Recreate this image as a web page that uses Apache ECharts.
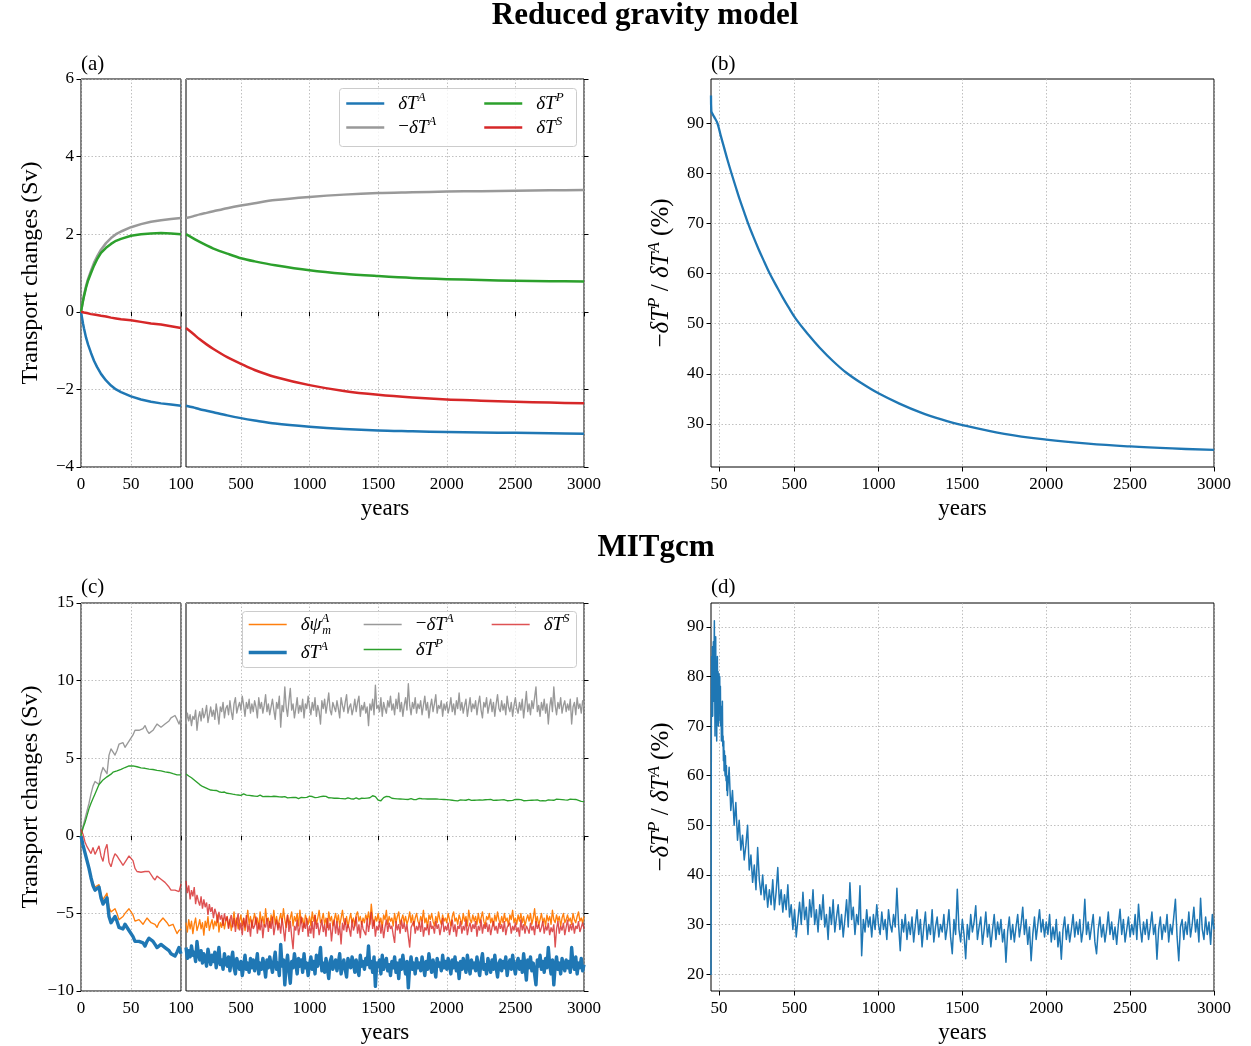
<!DOCTYPE html>
<html>
<head>
<meta charset="utf-8">
<script src="https://cdn.jsdelivr.net/npm/echarts@6/dist/echarts.min.js"></script>
<style>
html, body { margin: 0; padding: 0; background: #fff; }
#chart { width: 1251px; height: 1046px; }
</style>
</head>
<body>
<div id="chart"></div>
<script>
// ---------------- Reduced gravity model (panels a, b) ----------------
const rgYearsEarly = [0, 1, 2, 3, 5, 7, 10, 13, 16, 20, 25, 30, 35, 40, 50, 60, 70, 80, 90, 100];
const rgTA_early = [0, -0.15, -0.3, -0.43, -0.66, -0.84, -1.06, -1.26, -1.42, -1.6, -1.77, -1.9, -2.0, -2.07, -2.18, -2.26, -2.32, -2.36, -2.39, -2.42];
const rgTP_early = [0, 0.14, 0.28, 0.4, 0.62, 0.8, 1.0, 1.19, 1.35, 1.52, 1.65, 1.75, 1.83, 1.88, 1.96, 2.0, 2.02, 2.03, 2.02, 2.0];
const rgTS_early = [0, -0.005, -0.01, -0.02, -0.03, -0.04, -0.06, -0.07, -0.08, -0.1, -0.12, -0.15, -0.17, -0.19, -0.22, -0.26, -0.3, -0.33, -0.37, -0.42];

const rgYearsLate = [100, 150, 200, 250, 300, 400, 500, 600, 750, 1000, 1250, 1500, 1750, 2000, 2250, 2500, 2750, 3000];
const rgTA_late = [-2.42, -2.46, -2.51, -2.55, -2.59, -2.67, -2.74, -2.8, -2.88, -2.96, -3.02, -3.06, -3.08, -3.1, -3.11, -3.12, -3.13, -3.14];
const rgTP_late = [2.0, 1.9, 1.8, 1.71, 1.63, 1.5, 1.38, 1.3, 1.2, 1.07, 0.98, 0.92, 0.87, 0.84, 0.82, 0.8, 0.79, 0.78];
const rgTS_late = [-0.42, -0.56, -0.71, -0.84, -0.96, -1.17, -1.34, -1.5, -1.68, -1.89, -2.04, -2.14, -2.21, -2.26, -2.29, -2.32, -2.34, -2.36];

// -dT^P / dT^A in percent
const rgRatioYears = [2, 4, 8, 20, 40, 60, 80, 100, 124, 150, 170, 200, 223, 250, 285, 320, 352, 400, 430, 460, 511, 580, 650, 730, 809, 900, 1000, 1125, 1250, 1375, 1495, 1750, 2000, 2250, 2500, 2750, 3000];
const rgRatio = [95.5, 92.4, 92.0, 91.3, 90.0, 87.5, 85.1, 82.7, 80.0, 77.2, 75.1, 72.2, 70.0, 67.7, 64.9, 62.3, 60.0, 57.0, 55.2, 53.5, 50.8, 47.9, 45.2, 42.5, 40.2, 38.1, 36.1, 34.05, 32.3, 30.9, 29.8, 28.0, 26.85, 26.05, 25.5, 25.1, 24.8];

// ---------------- MITgcm (panels c, d) ----------------
// first century, every 2 years
const mitPsi_early = [0, -0.55, -1.05, -1.5, -2.0, -2.6, -3.05, -3.3, -3.3, -3.15, -3.8, -4.1, -3.9, -3.7, -4.6, -4.9, -4.8, -4.7, -5.0, -5.4, -5.3, -5.2, -5.0, -4.9, -4.7, -4.6, -5.1, -5.5, -5.6, -5.4, -5.5, -5.7, -5.5, -5.3, -5.4, -5.6, -5.5, -5.7, -5.9, -5.6, -5.5, -5.3, -5.3, -5.6, -5.8, -5.9, -5.7, -6.0, -6.3, -6.1, -6.0];
const mitTA_early = [0, -0.6, -1.1, -1.6, -2.1, -2.7, -3.2, -3.5, -3.5, -3.3, -4.0, -4.4, -4.2, -4.0, -5.2, -5.6, -5.5, -5.2, -5.5, -5.9, -5.9, -6.0, -5.7, -5.6, -6.1, -6.2, -6.5, -6.8, -6.9, -6.8, -6.7, -6.9, -7.1, -6.8, -6.6, -6.7, -6.8, -7.0, -7.2, -7.1, -7.0, -7.0, -7.2, -7.3, -7.4, -7.6, -7.7, -7.75, -7.5, -7.2, -7.6];
const mitTP_early = [0, 0.5, 0.85, 1.3, 1.75, 2.1, 2.4, 2.7, 3.0, 3.3, 3.45, 3.6, 3.72, 3.8, 3.9, 3.97, 4.1, 4.15, 4.18, 4.22, 4.28, 4.32, 4.4, 4.45, 4.5, 4.55, 4.5, 4.47, 4.45, 4.42, 4.38, 4.36, 4.35, 4.33, 4.3, 4.3, 4.27, 4.25, 4.22, 4.2, 4.18, 4.15, 4.12, 4.1, 4.08, 4.02, 4.0, 3.96, 3.93, 3.95, 3.93];
const mitTS_early = [0.4, 0.1, -0.4, -0.7, -0.6, -1.15, -0.75, -1.2, -1.3, -0.65, -1.3, -1.65, -0.9, -0.55, -1.7, -2.0, -1.5, -1.15, -1.3, -1.5, -1.7, -1.9, -1.85, -1.5, -1.3, -1.25, -1.6, -2.1, -2.3, -2.2, -2.35, -2.4, -2.3, -2.2, -2.3, -2.4, -2.7, -2.85, -2.6, -2.65, -2.8, -2.9, -3.0, -3.1, -3.3, -3.5, -3.6, -3.5, -3.4, -3.6, -3.1];

// years 100..3000, every 10 years
const mitTA_late = [
-7.2,-7.9,-7.4,-7.8,-7.1,-7.7,-7.5,-8.1,-6.8,-7.6,
-8.0,-7.4,-8.2,-7.6,-7.9,-8.4,-7.3,-7.8,-8.3,-7.7,
-8.1,-7.5,-8.5,-7.9,-7.2,-8.3,-8.0,-8.6,-7.6,-8.2,
-8.4,-7.8,-8.7,-8.0,-7.5,-8.5,-8.9,-7.9,-8.3,-8.6,
-8.1,-9.0,-8.4,-7.7,-8.6,-8.2,-8.8,-7.9,-8.5,-8.0,
-8.7,-8.3,-7.6,-8.9,-8.2,-8.6,-7.9,-8.4,-9.1,-8.0,
-8.5,-7.8,-8.3,-8.8,-8.1,-7.5,-8.6,-8.2,-9.0,-7.0,
-8.4,-8.0,-9.6,-8.3,-7.7,-8.7,-9.5,-8.1,-8.5,-7.6,
-8.2,-8.9,-7.9,-8.4,-8.0,-8.8,-7.6,-8.5,-8.2,-9.0,
-8.3,-7.8,-8.6,-8.1,-8.9,-7.7,-8.4,-8.0,-7.2,-8.7,
-8.2,-8.8,-7.9,-8.5,-9.2,-8.1,-7.8,-8.6,-8.3,-8.0,
-8.7,-8.2,-7.6,-8.9,-8.4,-8.0,-8.6,-9.1,-7.9,-8.3,
-8.5,-7.8,-8.2,-8.8,-8.0,-8.6,-9.0,-7.7,-8.4,-8.1,
-8.6,-7.9,-8.3,-7.1,-8.5,-8.1,-8.8,-7.8,-9.7,-8.2,
-8.4,-8.0,-8.9,-7.7,-8.6,-8.2,-7.9,-8.7,-8.3,-9.0,
-8.1,-8.5,-7.8,-8.8,-8.2,-9.2,-8.0,-8.6,-7.7,-8.4,
-8.9,-8.1,-9.8,-8.4,-7.8,-8.6,-8.2,-8.9,-7.9,-8.5,
-8.2,-8.7,-7.8,-8.4,-9.0,-8.1,-8.6,-7.6,-8.3,-8.8,
-8.0,-8.5,-9.1,-7.9,-8.4,-8.2,-8.7,-7.7,-8.5,-8.1,
-8.6,-7.9,-8.3,-8.9,-8.0,-8.5,-7.8,-8.7,-8.2,-9.2,
-8.1,-8.6,-7.9,-8.4,-8.8,-7.7,-8.3,-8.9,-8.0,-8.5,
-8.2,-8.7,-7.8,-8.5,-9.0,-8.1,-7.6,-8.6,-8.3,-8.9,
-7.9,-8.4,-8.8,-8.0,-8.6,-7.7,-8.5,-9.1,-8.2,-8.0,
-8.7,-8.1,-8.5,-7.8,-9.0,-8.3,-8.0,-8.6,-7.7,-8.4,
-8.9,-8.2,-7.9,-8.6,-8.1,-8.8,-7.6,-8.4,-9.3,-8.0,
-8.5,-7.8,-8.7,-8.2,-8.9,-9.6,-8.0,-8.4,-7.7,-8.6,
-8.1,-8.8,-7.9,-8.5,-7.2,-8.3,-8.9,-8.0,-9.6,-8.4,
-7.8,-8.6,-8.2,-8.9,-7.9,-8.4,-8.7,-8.0,-8.5,-8.1,
-8.8,-7.2,-8.3,-8.6,-7.8,-8.9,-8.2,-8.5,-7.9,-8.7,
-8.3];
const mitTP_late = [
3.98,3.90,3.85,3.80,3.74,3.72,3.60,3.52,3.45,3.35,
3.30,3.22,3.18,3.15,3.10,3.05,3.02,3.00,2.95,2.97,
2.93,2.90,2.92,2.86,2.84,2.88,2.80,2.78,2.82,2.76,
2.74,2.70,2.72,2.66,2.68,2.62,2.65,2.60,2.63,2.58,
2.60,2.64,2.70,2.66,2.62,2.57,2.60,2.55,2.58,2.52,
2.56,2.60,2.54,2.58,2.62,2.56,2.52,2.57,2.53,2.50,
2.54,2.58,2.52,2.49,2.55,2.50,2.53,2.48,2.51,2.55,
2.50,2.47,2.52,2.48,2.44,2.50,2.46,2.42,2.47,2.44,
2.48,2.45,2.40,2.44,2.47,2.43,2.46,2.50,2.48,2.52,
2.56,2.60,2.53,2.49,2.46,2.51,2.48,2.55,2.52,2.47,
2.55,2.60,2.54,2.49,2.45,2.48,2.44,2.46,2.42,2.45,
2.43,2.47,2.41,2.44,2.40,2.43,2.38,2.42,2.45,2.40,
2.39,2.42,2.37,2.41,2.44,2.40,2.36,2.39,2.42,2.38,
2.41,2.38,2.43,2.40,2.45,2.50,2.58,2.66,2.52,2.40,
2.30,2.20,2.26,2.38,2.46,2.50,2.54,2.48,2.52,2.45,
2.42,2.46,2.40,2.43,2.38,2.41,2.37,2.40,2.36,2.39,
2.35,2.38,2.34,2.37,2.40,2.36,2.33,2.37,2.34,2.38,
2.41,2.36,2.39,2.35,2.38,2.42,2.37,2.34,2.38,2.35,
2.37,2.34,2.38,2.41,2.36,2.39,2.35,2.38,2.34,2.37,
2.33,2.36,2.31,2.34,2.29,2.32,2.27,2.30,2.25,2.28,
2.31,2.27,2.30,2.33,2.29,2.32,2.35,2.31,2.28,2.32,
2.29,2.33,2.30,2.27,2.31,2.34,2.30,2.28,2.32,2.29,
2.33,2.30,2.35,2.31,2.28,2.32,2.29,2.33,2.30,2.27,
2.31,2.28,2.32,2.29,2.26,2.30,2.27,2.31,2.28,2.32,
2.35,2.39,2.34,2.30,2.33,2.29,2.26,2.30,2.27,2.31,
2.28,2.32,2.29,2.26,2.30,2.27,2.31,2.28,2.25,2.29,
2.26,2.29,2.25,2.28,2.31,2.27,2.30,2.34,2.29,2.32,
2.36,2.40,2.35,2.38,2.33,2.36,2.31,2.34,2.30,2.33,
2.36,2.32,2.35,2.38,2.34,2.31,2.28,2.25,2.22,2.24,
2.20];
const mitTS_late = [
-2.9,-3.7,-3.2,-4.1,-3.5,-3.9,-3.3,-4.4,-3.8,-4.2,
-4.5,-3.9,-4.7,-4.1,-4.6,-4.3,-5.1,-4.4,-4.9,-4.6,
-5.3,-4.7,-5.0,-5.6,-4.9,-5.4,-5.1,-5.8,-5.0,-5.5,
-5.2,-6.0,-5.4,-5.1,-5.9,-5.3,-6.2,-5.5,-5.0,-6.1,
-5.6,-6.4,-5.3,-5.9,-5.1,-6.2,-5.7,-6.5,-5.4,-6.0,
-5.8,-5.2,-6.3,-5.6,-6.1,-5.4,-6.6,-5.7,-5.9,-5.3,
-6.2,-5.5,-6.0,-5.2,-6.4,-5.8,-5.4,-6.1,-5.6,-6.3,
-5.3,-6.0,-6.8,-5.7,-5.1,-6.2,-5.5,-6.5,-7.3,-5.8,
-6.1,-5.4,-6.4,-5.9,-5.2,-6.2,-5.6,-6.0,-5.3,-6.5,
-5.8,-6.3,-5.5,-6.6,-5.1,-6.0,-5.6,-6.4,-5.9,-5.4,
-6.2,-5.7,-6.5,-5.3,-6.1,-5.6,-6.8,-5.9,-5.4,-6.3,
-5.5,-6.4,-5.8,-7.0,-5.6,-6.1,-5.3,-6.2,-5.7,-6.0,
-6.5,-5.4,-6.1,-5.8,-5.2,-6.3,-5.7,-6.6,-5.5,-6.0,
-5.9,-6.4,-5.3,-6.2,-5.6,-4.9,-6.0,-5.4,-6.5,-5.8,
-6.1,-5.5,-6.3,-5.7,-6.6,-5.9,-5.4,-6.2,-5.6,-6.0,
-5.8,-6.4,-6.9,-5.5,-6.1,-5.7,-6.3,-5.4,-6.0,-5.6,
-6.2,-5.7,-6.5,-7.2,-5.9,-6.0,-5.5,-6.3,-5.8,-6.1,
-5.6,-6.2,-5.4,-6.5,-5.9,-6.1,-5.7,-6.4,-5.5,-6.0,
-5.8,-6.3,-5.5,-6.0,-5.7,-6.4,-5.9,-5.3,-6.2,-5.8,
-6.1,-5.6,-6.4,-5.9,-5.4,-6.2,-5.7,-6.5,-5.8,-6.0,
-5.5,-6.3,-5.8,-6.1,-5.4,-6.4,-5.9,-5.6,-6.2,-5.7,
-6.0,-5.5,-6.5,-5.8,-6.1,-5.4,-6.3,-5.7,-6.0,-5.6,
-6.2,-5.7,-6.4,-5.9,-5.5,-6.1,-5.8,-6.3,-5.6,-6.0,
-5.7,-6.2,-5.5,-6.4,-5.9,-6.0,-5.6,-6.3,-5.8,-6.1,
-5.6,-6.2,-5.9,-6.5,-5.4,-6.1,-5.7,-6.3,-5.8,-6.0,
-6.3,-5.6,-6.1,-5.8,-6.4,-5.5,-6.0,-5.7,-6.2,-5.9,
-5.5,-6.3,-5.8,-6.1,-5.6,-6.4,-5.9,-6.2,-5.7,-7.2,
-6.0,-5.5,-6.3,-5.8,-6.1,-5.6,-6.4,-5.9,-5.4,-6.2,
-5.7,-6.1,-5.6,-6.3,-5.8,-6.0,-5.5,-6.2,-5.9,-5.6,
-6.0];
const mitPsi_late = [
-5.6,-6.2,-5.4,-6.0,-5.5,-6.3,-5.7,-5.3,-6.1,-5.8,
-5.4,-6.0,-5.6,-6.4,-5.5,-5.9,-5.2,-6.1,-5.7,-5.4,
-6.0,-5.5,-5.8,-5.1,-6.2,-5.6,-5.9,-5.3,-6.0,-5.5,
-5.2,-5.9,-5.4,-6.1,-5.6,-4.9,-5.8,-5.3,-6.0,-5.5,
-5.1,-5.8,-5.3,-6.1,-5.5,-4.8,-5.7,-5.2,-5.9,-5.4,
-5.0,-5.7,-5.3,-6.0,-4.9,-5.6,-5.2,-5.8,-4.7,-5.5,
-5.3,-5.9,-5.1,-5.6,-4.8,-5.7,-5.2,-5.9,-5.4,-5.0,
-5.6,-4.7,-5.4,-5.9,-5.1,-5.7,-5.3,-4.9,-5.8,-5.2,
-5.5,-5.0,-5.8,-4.8,-5.6,-5.3,-5.9,-5.1,-5.4,-5.7,
-5.2,-5.8,-4.9,-5.5,-5.1,-5.7,-5.3,-4.8,-5.6,-5.4,
-5.0,-5.7,-5.3,-5.9,-4.9,-5.5,-5.2,-5.8,-5.4,-5.0,
-5.6,-5.1,-5.8,-5.3,-4.8,-5.5,-5.7,-5.2,-5.9,-5.4,
-5.0,-5.6,-5.3,-5.8,-5.1,-4.9,-5.5,-5.2,-5.7,-5.3,
-5.6,-5.1,-5.4,-4.9,-5.7,-4.4,-5.3,-5.8,-5.2,-5.5,
-5.0,-5.6,-5.3,-5.9,-5.1,-5.4,-4.8,-5.7,-5.2,-5.5,
-5.3,-5.8,-5.0,-5.6,-5.2,-4.9,-5.7,-5.4,-5.1,-5.6,
-5.2,-5.7,-5.4,-4.9,-5.6,-5.1,-5.8,-5.3,-5.0,-5.5,
-5.7,-5.2,-5.5,-4.8,-5.6,-5.3,-5.9,-5.1,-5.4,-5.0,
-5.5,-5.8,-5.2,-5.6,-4.9,-5.4,-5.7,-5.1,-5.5,-5.3,
-5.6,-5.0,-5.4,-5.8,-5.2,-4.9,-5.5,-5.3,-5.7,-5.1,
-5.4,-5.7,-5.0,-5.5,-5.2,-5.8,-4.8,-5.4,-5.6,-5.1,
-5.5,-5.2,-5.7,-5.0,-5.6,-5.3,-4.9,-5.5,-5.8,-5.2,
-5.4,-5.0,-5.6,-5.3,-5.8,-5.1,-5.5,-4.9,-5.4,-5.7,
-5.2,-5.6,-5.0,-5.5,-5.3,-5.8,-5.1,-5.4,-4.8,-5.6,
-5.3,-5.7,-5.1,-5.5,-5.0,-5.6,-5.2,-5.8,-5.4,-5.1,
-5.5,-5.0,-5.7,-5.3,-4.7,-5.6,-5.2,-5.8,-5.4,-5.0,
-5.6,-5.3,-5.8,-5.1,-5.5,-5.2,-5.7,-4.8,-5.4,-5.6,
-5.1,-5.5,-5.2,-5.8,-5.3,-5.0,-5.6,-5.4,-5.1,-5.5,
-5.3,-5.7,-5.0,-5.4,-5.6,-5.2,-4.9,-5.5,-5.3,-5.6,
-5.2];

// -dT^P / dT^A in percent: years 2..100 every 2, then 110..3000 every 10
const mitRatio_early = [
19.8,70,84,78,86,72,80,87,75,83,
91.2,79,68,82,88,74,80,67,77,84,
73,81,70,78,80.5,76,80,71,78,70,
74,67,72,68,75,66,68,63,67,61,
65,62,60,64,61,59,62,57,60,56];
const mitRatio_late = [
61.7,53,57,50,54.6,47,51,45,48,43,
46,50,41,44,38.5,42,37,45.5,39,36,
40,35,38,33.5,37,34,39,33,36.5,41.5,
34,37,32.5,36,33,38,31.5,34,29,33,
27.5,31,34.5,30,36.5,31,33.5,28,35,31.5,
37,30,33,28.5,34,31,36,29.5,32,27,
33.5,30,35,28.5,31.5,34,29,32,27.5,31,
35,29.5,38.4,31,33.5,28,32,30,37.8,23.7,
31,28.5,33,29.5,31.5,27.5,32,29,34,30,
28,32.5,29,31,27,33,30,28.5,32,29.5,
37.3,30,24.7,31,28.5,32,27,30.5,28,31.5,
26.5,30,33,28,31,25.5,29.5,32.5,27,30,
28,33,26.5,29.5,31.5,27.5,30,28.5,32,27,
29.5,33,27.5,24.1,31,28,37.1,29,26.5,31,
28,23.1,30,27,32,28.5,30.5,33.8,27,29.5,
31.5,26,29,32.5,27.5,30,25.5,29,32,27,
30.5,28,31,26.5,29,22.4,28.5,31.5,27,30,
26.5,29.5,32,27.5,30,33.5,28,31,26,29.5,
22.7,28,31.5,27,30,33,28.5,31,27.5,30.5,
28,32,26.5,29.5,27,31,25.5,28.5,23,29,
31.5,27,30,26.5,29,32,27.5,30.5,28,31,
26.5,29,35.1,28,30.5,27,29.5,32,26.5,24.1,
29,31.5,27.5,30,26.5,29,32.5,28,30.5,27,
29.5,26,30,33.1,28,31,26.5,29,31.5,27.5,
30,28,32,27,34.1,29.5,26.5,30.5,28,31,
27,29.5,32.5,28,30,23,29,31.5,27,30,
28.5,32,26.5,30,28,31.5,35.1,27.5,22.7,29.5,
31,27,30.5,28,32.5,27.5,30,33.5,28.5,31,
26.5,35.3,29,27,31.5,28,30.5,26,32,29];

// ---------------- tick values ----------------
const shortTicks = [0, 50, 100];
const longTicks = [500, 1000, 1500, 2000, 2500, 3000];
const ratioXTicks = [50, 500, 1000, 1500, 2000, 2500, 3000];
const rgYTicks = [-4, -2, 0, 2, 4, 6];
const mitYTicks = [-10, -5, 0, 5, 10, 15];
const rgRatioYTicks = [30, 40, 50, 60, 70, 80, 90];
const mitRatioYTicks = [20, 30, 40, 50, 60, 70, 80, 90];

// ---------------- helpers ----------------
function range(a, b, step) { const r = []; for (let v = a; v <= b + 1e-9; v += step) r.push(v); return r; }
function pairs(xs, ys) { return xs.map((x, i) => [x, ys[i]]); }
function neg(arr) { return arr.map(v => -v); }

const mitYearsEarly = range(0, 100, 2);
const mitYearsLate = range(100, 3000, 10);
const mitRatioYearsEarly = range(2, 100, 2);
const mitRatioYearsLate = range(110, 3000, 10);

const FONT = '"Liberation Serif", "DejaVu Serif", serif';
const COL = { blue: '#1f77b4', orange: '#ff7f0e', green: '#2ca02c', red: '#d62728', gray: '#999999' };
const minusFmt = v => String(v).replace('-', '\u2212');

const tick = { show: true, inside: false, length: 4.5, lineStyle: { color: '#000', width: 1 } };
const gridLine = { show: true, lineStyle: { color: '#b0b0b0', width: 0.8, type: [1.5, 2] } };
const lbl = { show: true, fontFamily: FONT, fontSize: 17, color: '#000', formatter: minusFmt };

function richSet(base, sup) {
  return {
    n: { fontFamily: FONT, fontSize: base, lineHeight: base + 6, color: '#000' },
    i: { fontFamily: FONT, fontSize: base, fontStyle: 'italic', lineHeight: base + 6, color: '#000' },
    s: { fontFamily: FONT, fontSize: sup, fontStyle: 'italic', lineHeight: sup, verticalAlign: 'top', color: '#000' },
    z: { fontFamily: FONT, fontSize: sup, fontStyle: 'italic', lineHeight: sup, verticalAlign: 'top', width: 1, color: '#000' },
    b: { fontFamily: FONT, fontSize: sup - 1, fontStyle: 'italic', lineHeight: sup, verticalAlign: 'bottom', color: '#000' },
    g: { fontSize: base, width: 9 }
  };
}

function xAxis(grid, min, max, ticks, withName) {
  const ax = {
    type: 'value', gridIndex: grid, min: min, max: max,
    axisLine: { show: false },
    axisTick: Object.assign({}, tick, { customValues: ticks }),
    axisLabel: Object.assign({}, lbl, { margin: 9, customValues: ticks }),
    splitLine: gridLine
  };
  if (withName) {
    Object.assign(ax, {
      name: 'years', nameLocation: 'middle', nameGap: 30, nameMoveOverlap: false,
      nameTextStyle: { fontFamily: FONT, fontSize: 23, color: '#000' }
    });
  }
  return ax;
}

function yAxis(grid, min, max, ticks, side, name, nameGap, rich, nameSize) {
  const ax = {
    type: 'value', gridIndex: grid, min: min, max: max, position: side,
    axisLine: { show: false },
    axisTick: Object.assign({}, tick, { customValues: ticks }),
    axisLabel: Object.assign({}, lbl, { margin: 7, customValues: ticks, show: side === 'left' }),
    splitLine: gridLine
  };
  if (name) {
    Object.assign(ax, {
      name: name, nameLocation: 'middle', nameGap: nameGap, nameMoveOverlap: false,
      nameTextStyle: { fontFamily: FONT, fontSize: nameSize || 24, color: '#000', rich: rich }
    });
  }
  return ax;
}

function line(name, axis, data, color, width, extra) {
  return Object.assign({
    type: 'line', name: name, xAxisIndex: axis, yAxisIndex: axis, data: data,
    symbol: 'none', showSymbol: false, clip: true, silent: true,
    lineStyle: { color: color, width: width, join: 'round' }, itemStyle: { color: color },
    emphasis: { disabled: true }
  }, extra || {});
}

const legendText = {
  'δT^A': '{g| }{i|δT}{s|A}',
  '−δT^A': '{g| }{n|−}{i|δT}{s|A}',
  'δT^P': '{g| }{i|δT}{s|P}',
  'δT^S': '{g| }{i|δT}{s|S}',
  'M δψ^A_m': '{g| }{i|δψ}{z|A}{b|m}',
  'M δT^A': '{g| }{i|δT}{s|A}',
  'M −δT^A': '{g| }{n|−}{i|δT}{s|A}',
  'M δT^P': '{g| }{i|δT}{s|P}',
  'M δT^S': '{g| }{i|δT}{s|S}'
};

const legendBase = {
  orient: 'vertical', itemWidth: 38, itemHeight: 14, padding: 0, selectedMode: false, z: 5,
  itemStyle: { opacity: 0 }, lineStyle: { width: 'inherit' },
  textStyle: { fontFamily: FONT, fontSize: 19, color: '#000', rich: richSet(19, 13) },
  formatter: n => legendText[n]
};

const ratioName = '{n|−}{i|δT}{s|P}{n| / }{i|δT}{s|A}{n| (%)}';

const grids = [
  { left: 81, top: 79, width: 100, height: 388 },
  { left: 186, top: 79, width: 398, height: 388 },
  { left: 711, top: 79, width: 503, height: 388 },
  { left: 81, top: 603, width: 100, height: 388 },
  { left: 186, top: 603, width: 398, height: 388 },
  { left: 711, top: 603, width: 503, height: 388 }
].map(g => Object.assign(g, { show: true, borderColor: '#000', borderWidth: 1, containLabel: false, outerBoundsMode: 'none' }));

const titleText = (x, y, text, size, bold) => ({
  type: 'text', x: x, y: y, z: 10,
  style: { text: text, fontFamily: FONT, fontSize: size, fontWeight: bold ? 'bold' : 'normal', fill: '#000',
           align: bold ? 'center' : 'left', verticalAlign: 'middle',
           textAlign: bold ? 'center' : 'left', textVerticalAlign: 'middle' }
});
const legendFrame = (x, y, w, h) => ({
  type: 'rect', z: 3, shape: { x: x, y: y, width: w, height: h, r: 3 },
  style: { fill: 'rgba(255,255,255,0.8)', stroke: '#cccccc', lineWidth: 1 }
});

const thin = 1.35;

const option = {
  animation: false,
  backgroundColor: '#fff',
  grid: grids,
  xAxis: [
    xAxis(0, 0, 100, shortTicks, false),
    xAxis(1, 100, 3000, longTicks, true),
    xAxis(2, 2, 3000, ratioXTicks, true),
    xAxis(3, 0, 100, shortTicks, false),
    xAxis(4, 100, 3000, longTicks, true),
    xAxis(5, 2, 3000, ratioXTicks, true)
  ],
  yAxis: [
    yAxis(0, -4, 6, rgYTicks, 'left', 'Transport changes (Sv)', 38),
    yAxis(1, -4, 6, rgYTicks, 'right'),
    yAxis(2, 21.4, 98.8, rgRatioYTicks, 'left', ratioName, 34, richSet(25, 17), 25),
    yAxis(3, -10, 15, mitYTicks, 'left', 'Transport changes (Sv)', 38),
    yAxis(4, -10, 15, mitYTicks, 'right'),
    yAxis(5, 16.6, 94.8, mitRatioYTicks, 'left', ratioName, 34, richSet(25, 17), 25)
  ],
  legend: [
    Object.assign({}, legendBase, { data: ['δT^A', '−δT^A'], left: 345, top: 91, itemGap: 2 }),
    Object.assign({}, legendBase, { data: ['δT^P', 'δT^S'], left: 483, top: 91, itemGap: 2 }),
    Object.assign({}, legendBase, { data: ['M δψ^A_m', 'M δT^A'], left: 247, top: 612, itemGap: 3 }),
    Object.assign({}, legendBase, { data: ['M −δT^A', 'M δT^P'], left: 363, top: 612, itemGap: 3 }),
    Object.assign({}, legendBase, { data: ['M δT^S'], left: 491, top: 612 })
  ],
  graphic: [
    titleText(645, 16, 'Reduced gravity model', 31, true),
    titleText(656, 548, 'MITgcm', 31, true),
    titleText(81, 64, '(a)', 21, false),
    titleText(711, 64, '(b)', 21, false),
    titleText(81, 587, '(c)', 21, false),
    titleText(711, 587, '(d)', 21, false),
    legendFrame(339.5, 88.5, 237, 58),
    legendFrame(242.5, 611.5, 334, 56)
  ],
  series: [
    // (a)
    line('δT^A', 0, pairs(rgYearsEarly, rgTA_early), COL.blue, 2.5),
    line('δT^A', 1, pairs(rgYearsLate, rgTA_late), COL.blue, 2.5, { smooth: 0.3 }),
    line('−δT^A', 0, pairs(rgYearsEarly, neg(rgTA_early)), COL.gray, 2.5),
    line('−δT^A', 1, pairs(rgYearsLate, neg(rgTA_late)), COL.gray, 2.5, { smooth: 0.3 }),
    line('δT^P', 0, pairs(rgYearsEarly, rgTP_early), COL.green, 2.5),
    line('δT^P', 1, pairs(rgYearsLate, rgTP_late), COL.green, 2.5, { smooth: 0.3 }),
    line('δT^S', 0, pairs(rgYearsEarly, rgTS_early), COL.red, 2.5),
    line('δT^S', 1, pairs(rgYearsLate, rgTS_late), COL.red, 2.5, { smooth: 0.3 }),
    // (b)
    line('ratio RG', 2, pairs(rgRatioYears, rgRatio), COL.blue, 2.3, { smooth: 0.4 }),
    // (c)
    line('M δψ^A_m', 3, pairs(mitYearsEarly, mitPsi_early), COL.orange, thin),
    line('M δψ^A_m', 4, pairs(mitYearsLate, mitPsi_late), COL.orange, thin),
    line('M δT^A', 3, pairs(mitYearsEarly, mitTA_early), COL.blue, 3.4),
    line('M δT^A', 4, pairs(mitYearsLate, mitTA_late), COL.blue, 3.4),
    line('M −δT^A', 3, pairs(mitYearsEarly, neg(mitTA_early)), COL.gray, thin),
    line('M −δT^A', 4, pairs(mitYearsLate, neg(mitTA_late)), COL.gray, thin),
    line('M δT^P', 3, pairs(mitYearsEarly, mitTP_early), COL.green, thin),
    line('M δT^P', 4, pairs(mitYearsLate, mitTP_late), COL.green, thin),
    line('M δT^S', 3, pairs(mitYearsEarly, mitTS_early), COL.red, thin, { lineStyle: { color: COL.red, width: thin, opacity: 0.8 } }),
    line('M δT^S', 4, pairs(mitYearsLate, mitTS_late), COL.red, thin, { lineStyle: { color: COL.red, width: thin, opacity: 0.8 } }),
    // (d)
    line('ratio MIT', 5, pairs(mitRatioYearsEarly.concat(mitRatioYearsLate), mitRatio_early.concat(mitRatio_late)), COL.blue, 1.5)
  ]
};

const chart = echarts.init(document.getElementById('chart'), null, { renderer: 'canvas' });
chart.setOption(option);
</script>
</body>
</html>
